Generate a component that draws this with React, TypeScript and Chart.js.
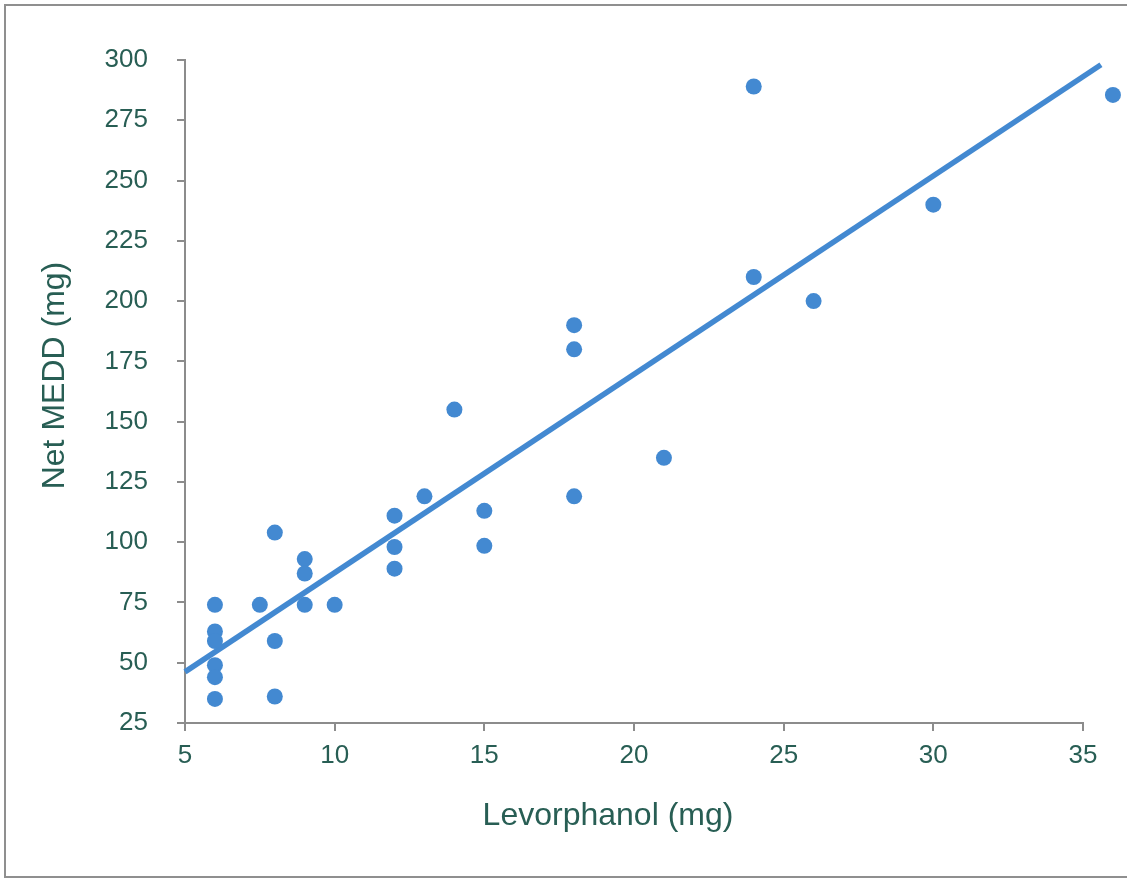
import React, { useEffect, useRef } from "react";
import { Chart, registerables } from "chart.js";

Chart.register(...registerables);

// Scatter data: Levorphanol dose (mg) vs Net MEDD (mg)
const levorphanolMg = [6, 6, 6, 6, 6, 6, 7.5, 8, 8, 8, 9, 9, 9, 10, 12, 12, 12, 13, 36, 14, 15, 15, 18, 18, 18, 21, 24, 24, 26, 30];
const netMeddMg = [74, 63, 59, 49, 44, 35, 74, 104, 59, 36, 93, 87, 74, 74, 111, 98, 89, 119, 285.5, 155, 113, 98.5, 190, 180, 119, 135, 289, 210, 200, 240];

// Linear trend line endpoints (as drawn in the reference)
const trendX = [35.6, 5];
const trendY = [298, 46.2];

// Axis ranges / tick labels
const xTicks = [5, 10, 15, 20, 25, 30, 35];
const yTicks = [25, 50, 75, 100, 125, 150, 175, 200, 225, 250, 275, 300];

const xTitle = "Levorphanol (mg)";
const yTitle = "Net MEDD (mg)";

const BLUE = "#4389d1";
const TEXT = "#285e54";
const AXIS = "#8c8c8c";
const FONT = "'Liberation Sans', Arial, sans-serif";

const axisTitles = {
  id: "axisTitles",
  afterDraw(chart: any) {
    const { ctx, chartArea } = chart;
    ctx.save();
    ctx.fillStyle = TEXT;
    ctx.font = `32px ${FONT}`;
    ctx.textAlign = "center";
    ctx.textBaseline = "middle";
    const cx = (chartArea.left + chartArea.right) / 2 - 26;
    ctx.fillText(xTitle, cx, chartArea.bottom + 93);
    const cy = (chartArea.top + chartArea.bottom) / 2 - 16;
    ctx.translate(chartArea.left - 130, cy);
    ctx.rotate(-Math.PI / 2);
    ctx.fillText(yTitle, 0, 0);
    ctx.restore();
  },
};

// Chart.js skips point elements outside the chart area; draw those (the 36 mg point) too.
const outsidePoints = {
  id: "outsidePoints",
  afterDatasetsDraw(chart: any) {
    const { ctx, chartArea } = chart;
    const meta = chart.getDatasetMeta(0);
    const full = { left: 0, top: 0, right: chart.width, bottom: chart.height };
    ctx.save();
    meta.data.forEach((el: any) => {
      if (el.x > chartArea.right || el.x < chartArea.left || el.y < chartArea.top || el.y > chartArea.bottom) {
        el.draw(ctx, full);
      }
    });
    ctx.restore();
  },
};

export default function App() {
  const ref = useRef<HTMLCanvasElement | null>(null);

  useEffect(() => {
    if (!ref.current) return;
    const chart = new Chart(ref.current, {
      type: "scatter",
      data: {
        datasets: [
          {
            label: "Net MEDD",
            data: levorphanolMg.map((x, i) => ({ x, y: netMeddMg[i] })),
            backgroundColor: BLUE,
            borderColor: BLUE,
            borderWidth: 0,
            pointRadius: 8,
            pointHoverRadius: 8,
            clip: false,
          } as any,
          {
            type: "line",
            label: "Linear trend",
            data: trendX.map((x, i) => ({ x, y: trendY[i] })),
            borderColor: BLUE,
            backgroundColor: BLUE,
            borderWidth: 5.5,
            pointRadius: 0,
            showLine: true,
            fill: false,
            tension: 0,
            borderCapStyle: "butt",
            clip: false,
          } as any,
        ],
      },
      options: {
        responsive: false,
        animation: false,
        devicePixelRatio: 1,
        layout: { padding: { top: 60, right: 44, left: 0, bottom: 0 } },
        plugins: {
          legend: { display: false },
          tooltip: { enabled: false },
        },
        events: [],
        scales: {
          x: {
            type: "linear",
            min: xTicks[0],
            max: xTicks[xTicks.length - 1],
            afterFit: (s: any) => {
              s.height = 156;
            },
            afterBuildTicks: (s: any) => {
              s.ticks = xTicks.map((v) => ({ value: v }));
            },
            ticks: {
              color: TEXT,
              font: { family: FONT, size: 26 },
              padding: 9,
              maxRotation: 0,
              autoSkip: false,
            },
            grid: {
              display: true,
              drawOnChartArea: false,
              drawTicks: true,
              tickLength: 8,
              color: AXIS,
              lineWidth: 2,
            },
            border: { display: true, color: AXIS, width: 2 },
          },
          y: {
            type: "linear",
            min: yTicks[0],
            max: yTicks[yTicks.length - 1],
            afterFit: (s: any) => {
              s.width = 185;
            },
            afterBuildTicks: (s: any) => {
              s.ticks = yTicks.map((v) => ({ value: v }));
            },
            ticks: {
              color: TEXT,
              font: { family: FONT, size: 26 },
              padding: 29,
              autoSkip: false,
            },
            grid: {
              display: true,
              drawOnChartArea: false,
              drawTicks: true,
              tickLength: 8,
              color: AXIS,
              lineWidth: 2,
            },
            border: { display: true, color: AXIS, width: 2 },
          },
        },
      } as any,
      plugins: [axisTitles, outsidePoints],
    });
    return () => chart.destroy();
  }, []);

  return (
    <div
      style={{
        position: "absolute",
        left: 0,
        top: 0,
        width: 1127,
        height: 879,
        overflow: "hidden",
        background: "#ffffff",
      }}
    >
      <div
        style={{
          position: "absolute",
          left: 4,
          top: 4,
          width: 1200,
          height: 874,
          boxSizing: "border-box",
          border: "2px solid #8f8f8f",
        }}
      />
      <canvas
        ref={ref}
        width={1127}
        height={879}
        style={{ position: "absolute", left: 0, top: 0, width: 1127, height: 879 }}
      />
    </div>
  );
}
